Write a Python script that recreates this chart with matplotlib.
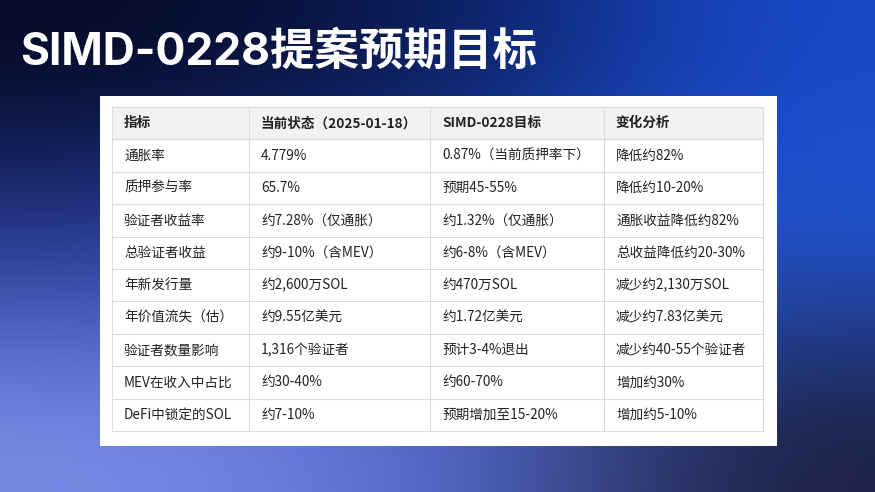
import matplotlib
matplotlib.use("Agg")
import matplotlib.pyplot as plt
import numpy as np
from matplotlib.patches import Rectangle

plt.rcParams['font.family'] = ['Noto Sans CJK SC', 'DejaVu Sans']

title = "SIMD-0228提案预期目标"
headers = ["指标", "当前状态（2025-01-18）", "SIMD-0228目标", "变化分析"]
col_indicator = ["通胀率", "质押参与率", "验证者收益率", "总验证者收益", "年新发行量",
                 "年价值流失（估）", "验证者数量影响", "MEV在收入中占比", "DeFi中锁定的SOL"]
col_current = ["4.779%", "65.7%", "约7.28%（仅通胀）", "约9-10%（含MEV）", "约2,600万SOL",
               "约9.55亿美元", "1,316个验证者", "约30-40%", "约7-10%"]
col_target = ["0.87%（当前质押率下）", "预期45-55%", "约1.32%（仅通胀）", "约6-8%（含MEV）", "约470万SOL",
              "约1.72亿美元", "预计3-4%退出", "约60-70%", "预期增加至15-20%"]
col_change = ["降低约82%", "降低约10-20%", "通胀收益降低约82%", "总收益降低约20-30%", "减少约2,130万SOL",
              "减少约7.83亿美元", "减少约40-55个验证者", "增加约30%", "增加约5-10%"]

W, H = 875, 492
fig = plt.figure(figsize=(W/100, H/100), dpi=100)
ax = fig.add_axes([0, 0, 1, 1])
ax.set_xlim(0, W); ax.set_ylim(H, 0); ax.axis('off')

def hx(c): return [int(c[i:i+2], 16)/255 for i in (1, 3, 5)]
grid = np.array([[hx('#050a24'), hx('#0a1850'), hx('#1a4bcc')],
                 [hx('#26389a'), hx('#2a55c8'), hx('#2458d8')],
                 [hx('#7d8ce6'), hx('#5a70d8'), hx('#1c1f3e')]])
ax.imshow(grid, extent=[0, W, H, 0], interpolation='bicubic', aspect='auto', zorder=0)
ax.set_xlim(0, W); ax.set_ylim(H, 0)

ax.text(20, 52, title, color='white', fontsize=32, fontweight='bold', va='center', ha='left',
        family=['Inter', 'Noto Sans CJK SC'], zorder=5)

ax.add_patch(Rectangle((100, 96), 677, 350, facecolor='white', edgecolor='none', zorder=2))

xs = [112, 249, 430, 604, 763]
y0, y1 = 107, 431
nrows = len(col_indicator) + 1
rh = (y1 - y0) / nrows
ax.add_patch(Rectangle((xs[0], y0), xs[-1]-xs[0], rh, facecolor='#f2f2f2', edgecolor='none', zorder=3))
for i in range(nrows + 1):
    ax.plot([xs[0], xs[-1]], [y0 + i*rh]*2, color='#dcdcdc', lw=0.8, zorder=4)
for x in xs:
    ax.plot([x, x], [y0, y1], color='#dcdcdc', lw=0.8, zorder=4)

rows = [headers] + [list(r) for r in zip(col_indicator, col_current, col_target, col_change)]
for i, row in enumerate(rows):
    yc = y0 + (i + 0.5) * rh
    for j, t in enumerate(row):
        ax.text(xs[j] + 12, yc, t, fontsize=9.8, color='#222222', va='center', ha='left',
                fontweight='bold' if i == 0 else 'normal', zorder=5)

fig.savefig('out.png', dpi=100)
